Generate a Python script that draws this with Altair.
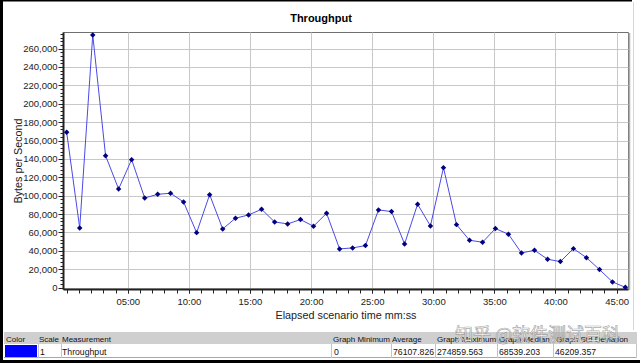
import altair as alt
import pandas as pd

# ---------------- data ----------------
times_s = [0, 64, 128, 191, 255, 319, 383, 447, 510, 574, 638, 702, 766, 829, 893,
           957, 1021, 1085, 1148, 1212, 1276, 1340, 1404, 1467, 1531, 1595, 1659,
           1723, 1786, 1850, 1914, 1978, 2042, 2105, 2169, 2233, 2297, 2361, 2424,
           2488, 2552, 2616, 2680, 2743]
throughput = [169000, 64900, 274860, 143500, 107300, 139200, 97500, 101500, 102600,
              93200, 59800, 101100, 63800, 75500, 79000, 85200, 71400, 69300, 74000,
              66700, 80900, 42100, 43200, 45700, 84500, 82700, 47500, 90700, 67100,
              130500, 68500, 51500, 49400, 64200, 58100, 37700, 40600, 30900, 28300,
              42400, 32600, 19600, 6200, 300]

y_tick_values = [0, 20000, 40000, 60000, 80000, 100000, 120000, 140000, 160000,
                 180000, 200000, 220000, 240000, 260000]
x_tick_values = [300, 600, 900, 1200, 1500, 1800, 2100, 2400, 2700]
x_minor_values = list(range(0, 2701, 60))
y_minor_values = list(range(0, 276001, 4000))

chart_title = "Throughput"
x_title = "Elapsed scenario time mm:ss"
y_title = "Bytes per Second"

table_headers = ["Color", "Scale", "Measurement", "Graph Minimum", "Average",
                 "Graph Maximum", "Graph Median", "Graph Std Deviation"]
table_row = ["", "1", "Throughput", "0", "76107.826", "274859.563",
             "68539.203", "46209.357"]
watermark = "知乎 @软件测试百科"

# ---------------- layout (pixels) ----------------
PL, PT = 63, 32          # plot origin in the page
W, H = 565, 257
header_x = [6, 39, 62, 333, 392, 437, 499, 556]
value_x = [6, 40, 62, 334, 393, 437, 499, 555]
separators_x = [38, 61, 331, 391, 435, 497, 553, 636]
FONT = "Liberation Sans"

df = pd.DataFrame({"t": times_s, "v": throughput})
one = pd.DataFrame({"k": [0]})

xs = alt.Scale(domain=[-18, 2756], nice=False, zero=False)
ys = alt.Scale(domain=[-1500, 278000], nice=False, zero=False)

major_x = alt.Axis(orient="bottom", values=x_tick_values,
                   labelExpr="utcFormat(datum.value*1000, '%M:%S')",
                   grid=True, gridColor="#c8c8c8", gridWidth=1,
                   tickSize=4, tickColor="#222222", domainColor="#222222",
                   domainWidth=2, labelFontSize=9.5, labelColor="#222222",
                   labelPadding=3, labelFont=FONT,
                   title=x_title, titleFont=FONT, titleFontSize=10.8,
                   titleFontWeight="normal", titleColor="#222222",
                   titleX=282.5, titleY=26, titleBaseline="middle")
minor_x = alt.Axis(orient="bottom", values=x_minor_values, labels=False,
                   grid=False, domain=False, tickSize=4, tickColor="#222222",
                   title="")
major_y = alt.Axis(orient="left", values=y_tick_values, format=",d",
                   grid=True, gridColor="#c8c8c8", gridWidth=1,
                   tickSize=5, tickColor="#222222", domainColor="#222222",
                   domainWidth=2, labelFontSize=9.5, labelColor="#222222",
                   labelPadding=1, labelFont=FONT,
                   title=y_title, titleFont=FONT, titleFontSize=10.8,
                   titleFontWeight="normal", titleColor="#222222",
                   titleX=-45, titleY=128.5, titleBaseline="middle")
minor_y = alt.Axis(orient="left", values=y_minor_values, labels=False,
                   grid=False, domain=False, tickSize=3, tickColor="#222222",
                   title="")

line = alt.Chart(df).mark_line(color="#4a4ae6", strokeWidth=1).encode(
    x=alt.X("t:Q", scale=xs, axis=major_x),
    y=alt.Y("v:Q", scale=ys, axis=major_y),
)
points = alt.Chart(df).mark_point(shape="diamond", filled=True, size=30,
                                  color="#000080", opacity=1).encode(
    x=alt.X("t:Q", scale=xs, axis=minor_x),
    y=alt.Y("v:Q", scale=ys, axis=minor_y),
)


def rect(x0, x1, y0, y1, color):
    return alt.Chart(one).mark_rect(color=color).encode(
        x=alt.value(x0 - PL), x2=alt.value(x1 - PL),
        y=alt.value(y0 - PT), y2=alt.value(y1 - PT))


def rule(x0, x1, y0, y1, color, w):
    return alt.Chart(one).mark_rule(color=color, strokeWidth=w).encode(
        x=alt.value(x0 - PL), x2=alt.value(x1 - PL),
        y=alt.value(y0 - PT), y2=alt.value(y1 - PT))


def text(s, x, y, size, weight="normal", align="left", color="#111111", font=FONT):
    return alt.Chart(one).mark_text(text=s, font=font, fontSize=size,
                                    fontWeight=weight, align=align,
                                    baseline="alphabetic", color=color).encode(
        x=alt.value(x - PL), y=alt.value(y - PT))


layers = []
# outer frame
layers.append(rule(1.5, 1.5, 0, 363, "#000000", 3))
layers.append(rule(0, 632, 0.75, 0.75, "#000000", 1.5))
layers.append(rule(0, 640, 361.5, 361.5, "#000000", 3))
layers.append(rule(633.5, 633.5, 2, 330, "#d8d8d8", 1))
# plot shadow on right
layers.append(rule(629.5, 629.5, 33, 290, "#b0b0b0", 1.5))
# table
layers.append(rect(4, 637, 332, 344, "#cfcfcf"))
layers.append(rule(4, 637, 357.5, 357.5, "#a8a8a8", 1))
for sx in separators_x:
    layers.append(rule(sx + 0.5, sx + 0.5, 344, 358, "#c4c4c4", 1))
layers.append(rect(5, 37, 345, 357, "#0000ff"))

layers += [line, points]

layers.append(text(chart_title, 321, 22, 11, weight="bold", align="center",
                   color="#000000"))
for hx, h in zip(header_x, table_headers):
    layers.append(text(h, hx, 341.5, 8))
for vx, v in zip(value_x, table_row):
    if v:
        layers.append(text(v, vx, 355, 8.7))

layers.append(alt.Chart(one).mark_text(
    text=watermark, font="Noto Sans CJK SC", fontSize=18, align="left",
    baseline="alphabetic", color="#ffffff", fillOpacity=0.85,
    stroke="#707070", strokeOpacity=0.6, strokeWidth=0.7).encode(
    x=alt.value(455 - PL), y=alt.value(341 - PT)))

chart = alt.layer(*layers).resolve_axis(
    x="independent", y="independent"
).properties(
    width=W, height=H,
    padding={"left": PL, "top": PT, "right": 640 - PL - W, "bottom": 363 - PT - H},
    autosize=alt.AutoSizeParams(type="none"),
    background="#ffffff",
).configure_view(stroke="#707070", strokeWidth=1)

chart.save("out.html", embed_options={"renderer": "svg", "actions": False})
